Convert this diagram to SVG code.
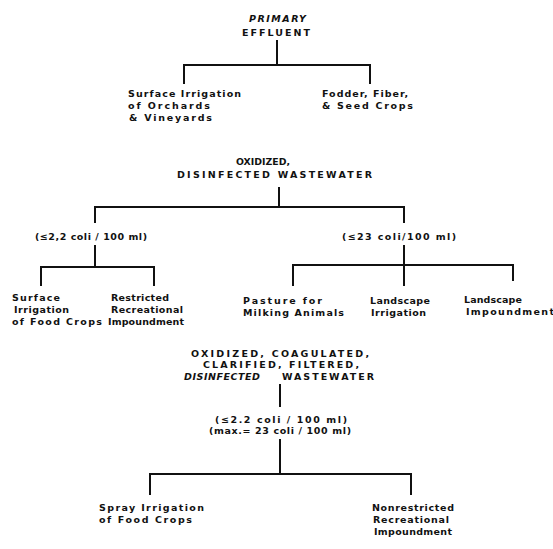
<svg xmlns="http://www.w3.org/2000/svg" width="553" height="549" viewBox="0 0 553 549">
<style>
text{font-family:"DejaVu Sans","Liberation Sans",Arial,sans-serif;font-weight:bold;font-size:9.5px;fill:#111}
.i{font-style:italic}
.k{font-size:9px}
.c{stroke:#111;stroke-width:2;fill:none;stroke-linecap:square}
</style>
<rect width="553" height="549" fill="#fff"/>
<g id="connectors">
<path class="c" d="M277 41V65M184 83V65H370V83"/>
<path class="c" d="M279 188V207M95 222V207H404V222"/>
<path class="c" d="M95 246V267M41 285V267H154V285"/>
<path class="c" d="M404 246V285M293 285V265H513V280"/>
<path class="c" d="M280 385V406M280 440V474M150 494V474H411V494"/>
</g>
<g id="n-primary">
<text class="i" x="249" y="22" textLength="57" lengthAdjust="spacing">PRIMARY</text>
<text x="242" y="36" textLength="68" lengthAdjust="spacing">EFFLUENT</text>
</g>
<g id="n-orchards">
<text x="128" y="97" textLength="113" lengthAdjust="spacing">Surface Irrigation</text>
<text x="128" y="109" textLength="82" lengthAdjust="spacing">of Orchards</text>
<text x="129" y="121" textLength="83" lengthAdjust="spacing">&amp; Vineyards</text>
</g>
<g id="n-fodder">
<text x="322" y="97" textLength="86" lengthAdjust="spacing">Fodder, Fiber,</text>
<text x="322" y="109" textLength="91" lengthAdjust="spacing">&amp; Seed Crops</text>
</g>
<g id="n-oxidized">
<text class="k" x="236" y="165" textLength="54" lengthAdjust="spacingAndGlyphs">OXIDIZED,</text>
<text x="177" y="178" textLength="195" lengthAdjust="spacing">DISINFECTED WASTEWATER</text>
</g>
<g id="n-coli22">
<text x="35" y="240" textLength="112" lengthAdjust="spacing">(≤2,2 coli / 100 ml)</text>
</g>
<g id="n-coli23">
<text x="342" y="240" textLength="114" lengthAdjust="spacing">(≤23 coli/100 ml)</text>
</g>
<g id="n-surface-food">
<text x="12" y="301" textLength="48" lengthAdjust="spacing">Surface</text>
<text x="14" y="313" textLength="55" lengthAdjust="spacing">Irrigation</text>
<text x="12" y="325" textLength="90" lengthAdjust="spacing">of Food Crops</text>
</g>
<g id="n-restricted">
<text x="111" y="301" textLength="58" lengthAdjust="spacing">Restricted</text>
<text x="111" y="313" textLength="72" lengthAdjust="spacing">Recreational</text>
<text x="108" y="325" textLength="76" lengthAdjust="spacing">Impoundment</text>
</g>
<g id="n-pasture">
<text x="243" y="304" textLength="79" lengthAdjust="spacing">Pasture  for</text>
<text x="243" y="316" textLength="101" lengthAdjust="spacing">Milking  Animals</text>
</g>
<g id="n-landscape-irr">
<text x="370" y="304" textLength="60" lengthAdjust="spacing">Landscape</text>
<text x="371" y="316" textLength="55" lengthAdjust="spacing">Irrigation</text>
</g>
<g id="n-landscape-imp">
<text x="464" y="303" textLength="58" lengthAdjust="spacing">Landscape</text>
<text x="466" y="315" textLength="88" lengthAdjust="spacing">Impoundment</text>
</g>
<g id="n-advanced">
<text x="191" y="357" textLength="178" lengthAdjust="spacing">OXIDIZED, COAGULATED,</text>
<text x="203" y="368" textLength="156" lengthAdjust="spacing">CLARIFIED, FILTERED,</text>
<text class="i" x="184" y="380" textLength="76" lengthAdjust="spacing">DISINFECTED</text>
<text x="282" y="380" textLength="92" lengthAdjust="spacing">WASTEWATER</text>
</g>
<g id="n-coli-adv">
<text x="215" y="423" textLength="132" lengthAdjust="spacing">(≤2.2 coli / 100 ml)</text>
<text x="209" y="434" textLength="142" lengthAdjust="spacing">(max.= 23 coli / 100 ml)</text>
</g>
<g id="n-spray">
<text x="99" y="511" textLength="105" lengthAdjust="spacing">Spray Irrigation</text>
<text x="99" y="523" textLength="93" lengthAdjust="spacing">of Food Crops</text>
</g>
<g id="n-nonrestricted">
<text x="372" y="511" textLength="82" lengthAdjust="spacing">Nonrestricted</text>
<text x="373" y="523" textLength="76" lengthAdjust="spacing">Recreational</text>
<text x="374" y="535" textLength="78" lengthAdjust="spacing">Impoundment</text>
</g>
</svg>
